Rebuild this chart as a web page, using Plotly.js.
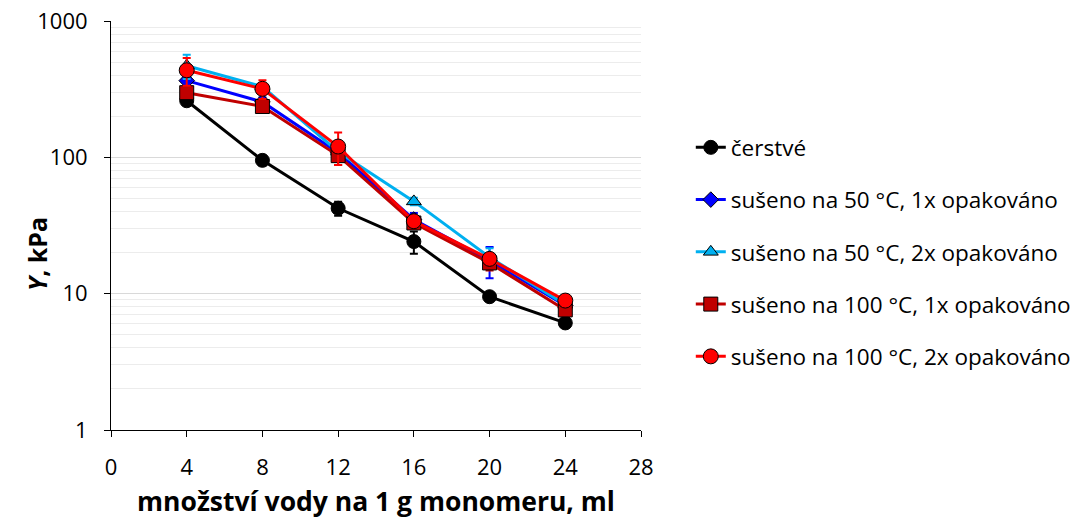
<!DOCTYPE html>
<html>
<head>
<meta charset="utf-8">
<script src="https://cdn.plot.ly/plotly-3.0.1.min.js"></script>
<style>html,body{margin:0;padding:0;background:#fff;}#chart{width:1071px;height:519px;}</style>
</head>
<body>
<div id="chart"></div>
<script>
const water = [4, 8, 12, 16, 20, 24];

const names = [
  "čerstvé",
  "sušeno na 50 °C, 1x opakováno",
  "sušeno na 50 °C, 2x opakováno",
  "sušeno na 100 °C, 1x opakováno",
  "sušeno na 100 °C, 2x opakováno"
];

const fresh      = [260, 95, 42.3, 24.1, 9.5, 6.1];
const fresh_err  = [15, 8, 5, 4.5, 0.6, 0.4];
const d50x1      = [365, 255, 108, 35, 17.5, 8.2];
const d50x1_err  = [30, 20, 10, 4, 4.5, 0.8];
const d50x2      = [470, 330, 110, 47.5, 18.5, 8.3];
const d50x2_err  = [95, 20, 10, 3, 3, 0.8];
const d100x1     = [298, 236, 103, 33, 16.8, 7.6];
const d100x1_err = [20, 15, 15, 3, 2, 0.6];
const d100x2     = [435, 318, 120, 34, 18, 8.9];
const d100x2_err = [100, 50, 32, 3, 1.5, 0.6];

const xTicks = [0, 4, 8, 12, 16, 20, 24, 28];
const yTicks = [1, 10, 100, 1000];

const FONT = "Open Sans, Liberation Sans, sans-serif";

function series(name, y, err, color, lineColor, symbol, size, group) {
  return {
    x: water, y: y, name: name, type: "scatter", mode: "lines+markers",
    legendgroup: group,
    line: {color: lineColor, width: 3},
    marker: {symbol: symbol, size: size, color: color, line: {color: "#000", width: 1}},
    error_y: {type: "data", array: err, visible: true, color: lineColor, thickness: 2, width: 4}
  };
}

const traces = [
  series(names[0], fresh, fresh_err, "#000000", "#000000", "circle", 14, "g1"),
  series(names[1], d50x1, d50x1_err, "#0000FF", "#0000FF", "diamond", 12, "g2"),
  series(names[2], d50x2, d50x2_err, "#00B0F0", "#00B0F0", "triangle-up", 13, "g3"),
  series(names[3], d100x1, d100x1_err, "#C00000", "#C00000", "square", 14, "g4"),
  series(names[4], d100x2, d100x2_err, "#FF0000", "#FF0000", "circle", 15, "g5")
];

const minorVals = [];
for (let d = 1; d < 1000; d *= 10) for (let k = 2; k <= 9; k++) minorVals.push(k * d);

const layout = {
  width: 1071, height: 519,
  margin: {l: 111, r: 430, t: 21, b: 89},
  paper_bgcolor: "#fff", plot_bgcolor: "#fff",
  font: {family: FONT, size: 22, color: "#000"},
  showlegend: true,
  legend: {
    xref: "container", yref: "container",
    x: 0.645, xanchor: "left", y: 0.514, yanchor: "middle",
    font: {family: FONT, size: 22.5, color: "#000"},
    tracegroupgap: 20, itemwidth: 30, bgcolor: "rgba(0,0,0,0)"
  },
  xaxis: {
    range: [0, 28], tickmode: "array", tickvals: xTicks, ticktext: xTicks.map(String),
    ticks: "outside", ticklen: 6, tickcolor: "#000", tickwidth: 1,
    showline: true, linecolor: "#000", linewidth: 1, showgrid: false, zeroline: false,
    tickfont: {family: FONT, size: 22}, ticklabelstandoff: 12,
    title: {text: "<b>množství vody na 1 g monomeru, ml</b>", font: {family: FONT, size: 26.5}, standoff: 12}
  },
  yaxis: {
    type: "log", range: [0, 3], tickmode: "array", tickvals: yTicks, ticktext: yTicks.map(String),
    ticks: "outside", ticklen: 6, tickcolor: "#000", tickwidth: 1,
    showline: true, linecolor: "#000", linewidth: 1,
    showgrid: true, gridcolor: "#d9d9d9", gridwidth: 1, zeroline: false,
    tickfont: {family: FONT, size: 22}, ticklabelstandoff: 12,
    minor: {tickmode: "array", tickvals: minorVals, showgrid: true, gridcolor: "#ececec", gridwidth: 1, ticks: ""}
  },
  annotations: [{
    text: "<b><i>Y</i>, kPa</b>", xref: "paper", yref: "paper",
    x: -0.14, y: 0.43, xanchor: "center", yanchor: "middle",
    textangle: -90, showarrow: false, font: {family: FONT, size: 25, color: "#000"}
  }]
};

Plotly.newPlot("chart", traces, layout, {displayModeBar: false, staticPlot: true});
</script>
</body>
</html>
